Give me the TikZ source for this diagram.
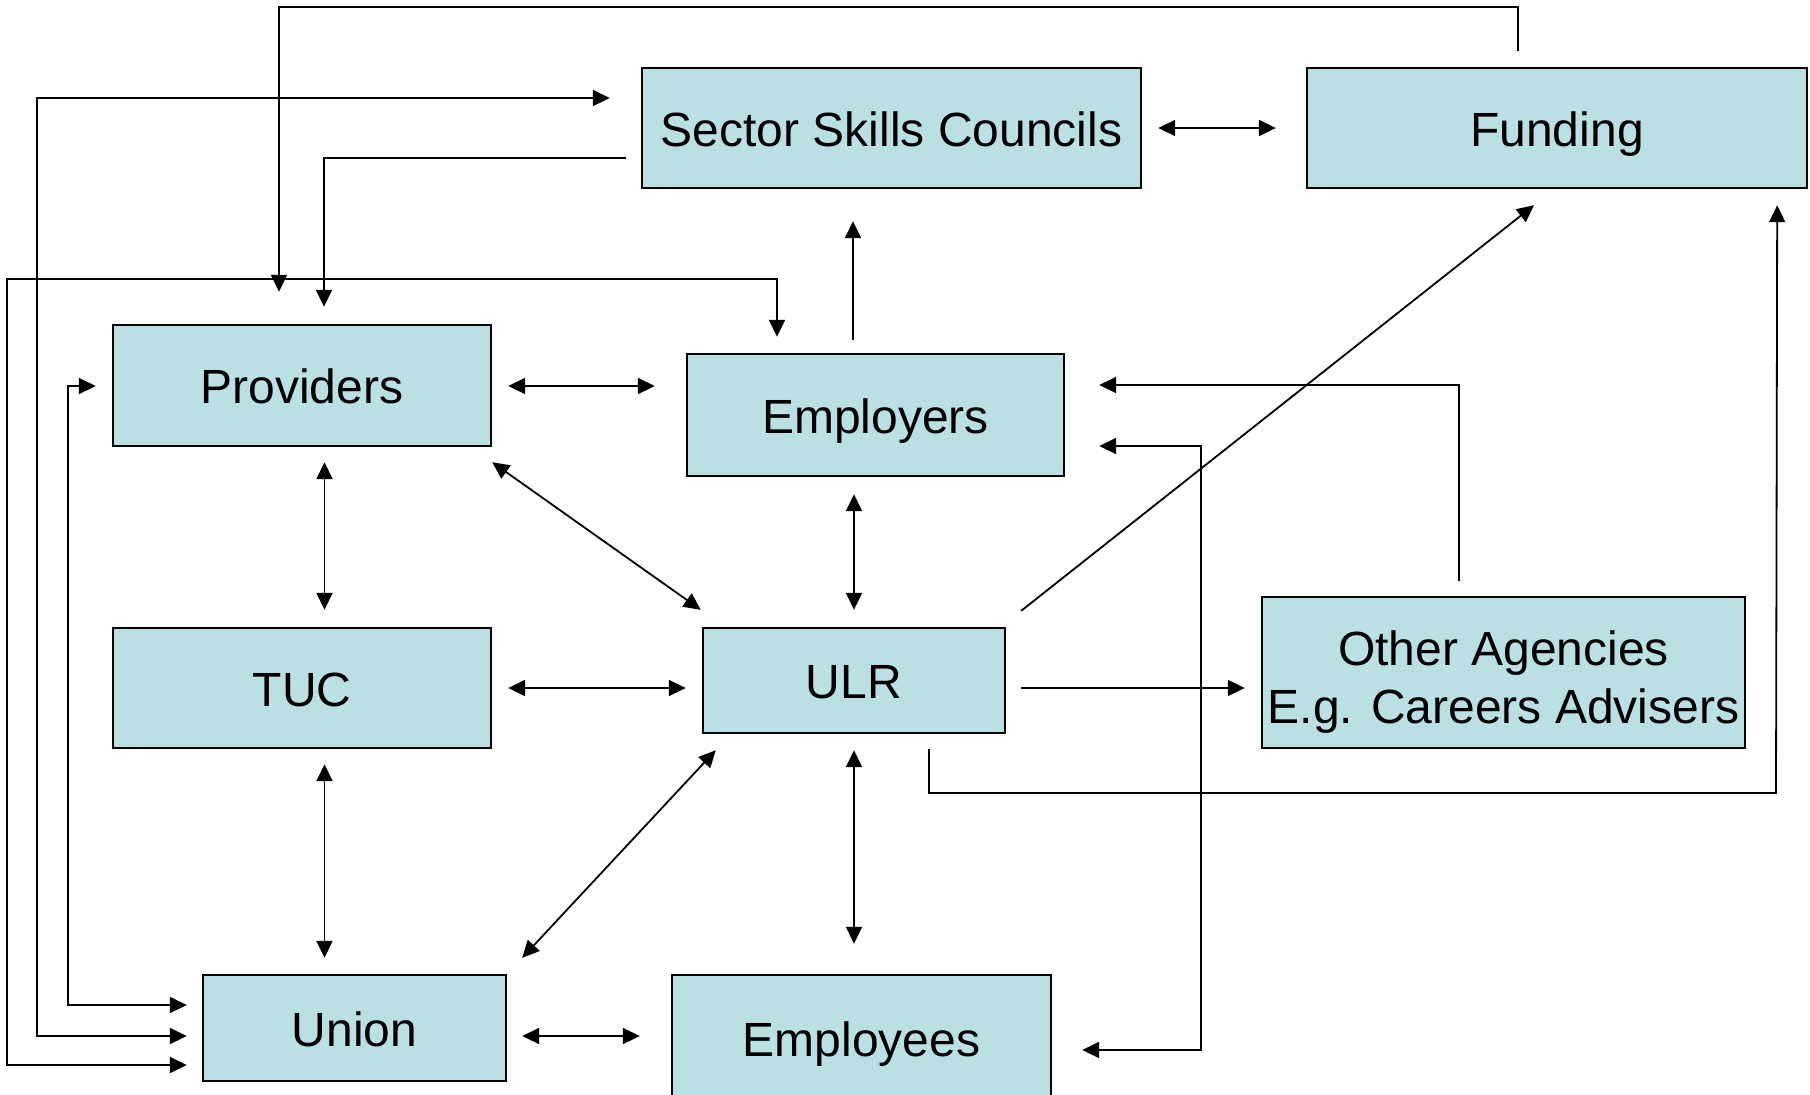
\documentclass[tikz,border=0pt]{standalone}
\usepackage{fontspec}
\setmainfont{Liberation Sans}
\usetikzlibrary{arrows.meta,calc}
\definecolor{boxfill}{RGB}{186,224,227}
\begin{document}
\begin{tikzpicture}[x=0.5pt,y=-0.5pt,
  box/.style={draw=black,line width=1.2pt,fill=boxfill,inner sep=0pt,align=center,
    text height=18pt,text depth=0pt,font=\fontsize{24}{29}\selectfont},
  arr/.style={line width=0.9pt,-{Triangle[length=8.5pt,width=8pt]}},
  dbl/.style={line width=0.9pt,{Triangle[length=8.5pt,width=8pt]}-{Triangle[length=8.5pt,width=8pt]}}]
\useasboundingbox (0,0) rectangle (1810,1094);

% boxes
\node[box,minimum width=249.5pt,minimum height=60pt] (ssc)   at (891.5,128)  {Sector Skills Councils};
\node[box,minimum width=250pt,minimum height=60pt]   (fund)  at (1557,128)   {Funding};
\node[box,minimum width=189pt,minimum height=60.5pt] (prov)  at (302,385.5)  {Providers};
\node[box,minimum width=188.5pt,minimum height=61pt] (emp)   at (875.5,415)  {Employers};
\node[box,minimum width=189pt,minimum height=60pt]   (tuc)   at (302,688)    {TUC};
\node[box,minimum width=151pt,minimum height=52.5pt] (ulr)   at (854,680.5)  {ULR};
\node[box,minimum width=241.5pt,minimum height=75.5pt,text height=50.5pt] (other) at (1503.5,672.5) {Other Agencies\\E.g. Careers Advisers};
\node[box,minimum width=151.5pt,minimum height=53pt] (union) at (354.5,1028) {Union};
\node[box,minimum width=189.5pt,minimum height=63pt] (empl)  at (861.5,1038) {Employees};

% routed connectors
\draw[arr] ($(fund.north)+(-39,-16)$) |- (279,7) -- ($(prov.north)+(-23,-32)$);
\draw[arr] ($(ssc.west)+(-15,30)$) -| ($(prov.north)+(22,-17)$);
\draw[dbl] ($(union.west)+(-15,8)$) -| (37,98) -- ($(ssc.west)+(-31,-30)$);
\draw[dbl] ($(union.west)+(-15,37)$) -| (7,279) -| ($(emp.north)+(-98.5,-16)$);
\draw[dbl] ($(union.west)+(-15,-23)$) -| (68,386) -- ($(prov.west)+(-16,0.5)$);
\draw[arr] ($(ulr.south)+(75,15)$) |- (1776,793) -- ($(fund.south east)+(-31,16)$);
\draw[arr] ($(other.north)+(-44.5,-15)$) |- ($(emp.east)+(34,-30)$);
\draw[dbl] ($(emp.east)+(34,31)$) -| (1201,1050) -- ($(empl.east)+(30,12)$);

% straight connectors
\draw[dbl] ($(prov.east)+(16,0.5)$) -- ($(emp.west)+(-31,-29)$);
\draw[dbl] ($(ssc.east)+(16,0)$) -- ($(fund.west)+(-30,0)$);
\draw[arr] ($(emp.north)+(-22.5,-13)$) -- ($(ssc.south)+(-38.5,32)$);
\draw[arr] ($(ulr.north east)+(15,-16)$) -- ($(fund.south)+(-23,16)$);
\draw[arr] ($(ulr.east)+(15,7.5)$) -- ($(other.west)+(-16,15.5)$);
\draw[dbl] ($(emp.south)+(-21.5,17)$) -- ($(ulr.north)+(0,-17)$);
\draw[dbl] ($(ulr.south)+(0,16)$) -- ($(empl.north)+(-7.5,-30)$);
\draw[dbl] ($(prov.south east)+(0,15)$) -- ($(ulr.north west)+(-1,-17)$);
\draw[dbl] ($(prov.south)+(22.5,15)$) -- ($(tuc.north)+(22.5,-17)$);
\draw[dbl] ($(tuc.east)+(16,0)$) -- ($(ulr.west)+(-16,7.5)$);
\draw[dbl] ($(tuc.south)+(22.5,15)$) -- ($(union.north)+(-30,-16)$);
\draw[dbl] ($(ulr.south west)+(14,16)$) -- ($(union.north east)+(15,-16)$);
\draw[dbl] ($(union.east)+(15,8)$) -- ($(empl.west)+(-31,-2)$);
\end{tikzpicture}
\end{document}
